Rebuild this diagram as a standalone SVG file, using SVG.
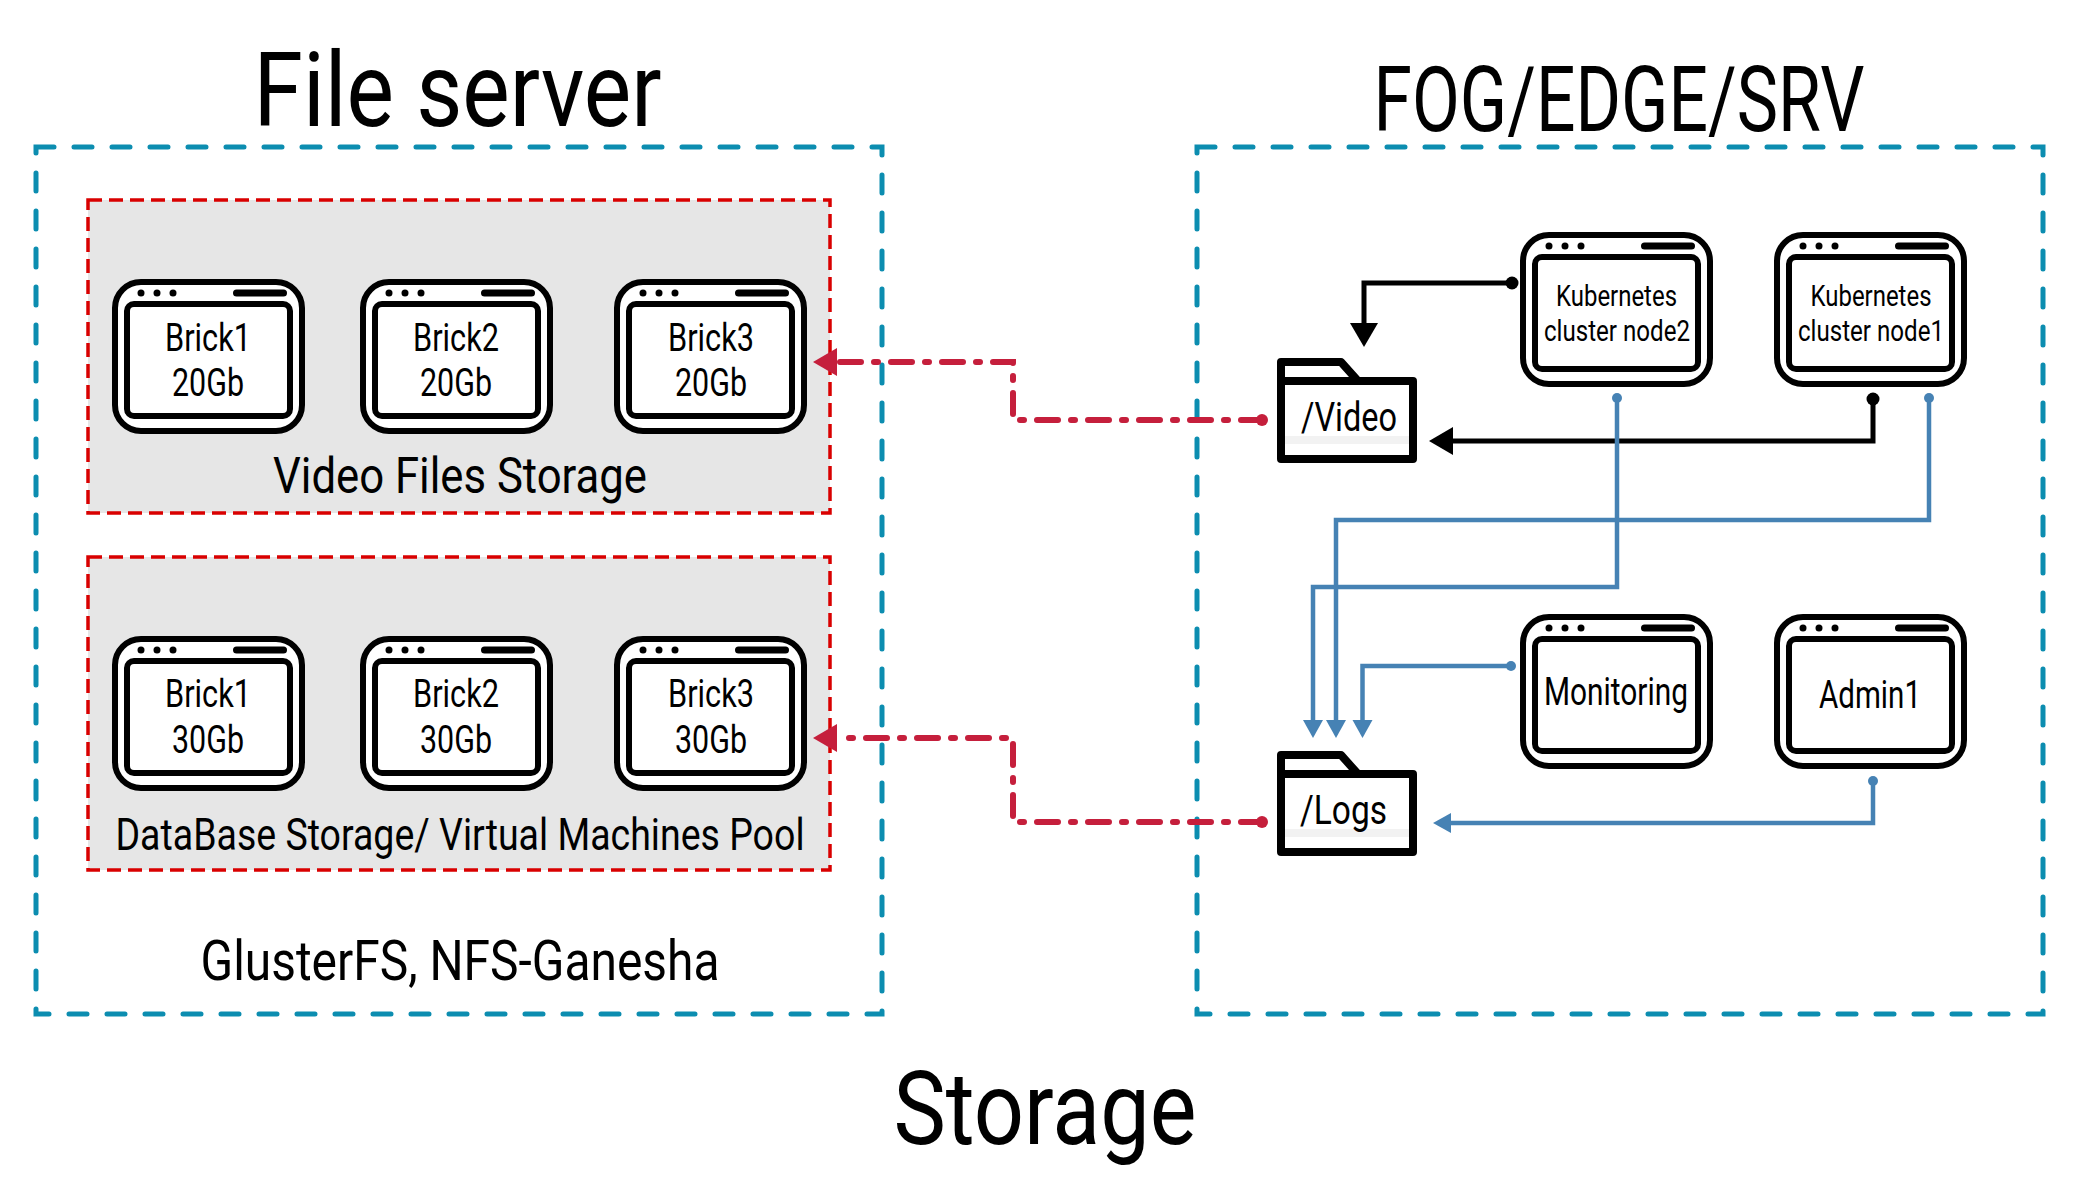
<svg xmlns="http://www.w3.org/2000/svg" width="2090" height="1193" viewBox="0 0 2090 1193">
<style>
text{font-family:Roboto,"Liberation Sans",sans-serif;fill:#000;text-anchor:middle}
.outer{fill:none;stroke:#0c8db0;stroke-width:5;stroke-dasharray:18 20;stroke-linecap:round}
.pool{fill:#e6e6e6;stroke:#d90000;stroke-width:3.500;stroke-dasharray:14 7}
.win{fill:#fff;stroke:#000;stroke-width:6}
.fold{fill:#fff;stroke:#000;stroke-width:8;stroke-linejoin:round}
.k{fill:none;stroke:#000;stroke-width:5}
.b{fill:none;stroke:#4682b4;stroke-width:4.500}
.r{fill:none;stroke:#c51f3c;stroke-width:6;stroke-linecap:round;stroke-dasharray:21 13 4 13}
</style>
<defs>
<g id="window">
<rect class="win" x="3" y="3" width="187" height="149" rx="26"/>
<rect class="win" x="15" y="25" width="163" height="112" rx="7"/>
<circle cx="29" cy="14" r="3.500"/><circle cx="45" cy="14" r="3.500"/><circle cx="61" cy="14" r="3.500"/>
<path d="M124.500 14H171.500" stroke="#000" stroke-width="7" stroke-linecap="round"/>
</g>
<g id="folder">
<path class="fold" d="M4 23V4H64L81 23M4 23H136V101H4Z"/>
<rect x="8" y="78" width="124" height="8" fill="#f2f2f2"/>
</g>
<marker id="ka" markerUnits="userSpaceOnUse" markerWidth="26" markerHeight="30" refX="1" refY="15" orient="auto"><path d="M0 1L24 15L0 29Z"/></marker>
<marker id="kd" markerUnits="userSpaceOnUse" markerWidth="14" markerHeight="14" refX="7" refY="7"><circle cx="7" cy="7" r="6.500"/></marker>
<marker id="ba" markerUnits="userSpaceOnUse" markerWidth="19" markerHeight="22" refX="1" refY="11" orient="auto"><path d="M0 1L18 11L0 21Z" fill="#4682b4"/></marker>
<marker id="bd" markerUnits="userSpaceOnUse" markerWidth="12" markerHeight="12" refX="6" refY="6"><circle cx="6" cy="6" r="5" fill="#4682b4"/></marker>
<marker id="ra" markerUnits="userSpaceOnUse" markerWidth="26" markerHeight="30" refX="1" refY="15" orient="auto"><path d="M0 1L24 15L0 29Z" fill="#c51f3c"/></marker>
<marker id="rd" markerUnits="userSpaceOnUse" markerWidth="14" markerHeight="14" refX="7" refY="7"><circle cx="7" cy="7" r="6" fill="#c51f3c"/></marker>
</defs>
<rect width="2090" height="1193" fill="#fff"/>
<text x="457.500" y="126" font-size="104" textLength="408" lengthAdjust="spacingAndGlyphs">File server</text>
<text x="1619" y="131" font-size="90" textLength="491" lengthAdjust="spacingAndGlyphs">FOG/EDGE/SRV</text>
<text x="1045" y="1144" font-size="102" textLength="303" lengthAdjust="spacingAndGlyphs">Storage</text>
<g id="file-server">
<rect class="outer" x="36" y="147" width="846" height="867"/>
<text x="460" y="980" font-size="55" textLength="519" lengthAdjust="spacingAndGlyphs">GlusterFS, NFS-Ganesha</text>
</g>
<g id="fog-edge-srv"><rect class="outer" x="1197" y="147" width="846" height="867"/></g>
<g id="video-pool">
<rect class="pool" x="88" y="200" width="742" height="313"/>
<text x="460" y="493" font-size="50" textLength="374" lengthAdjust="spacingAndGlyphs">Video Files Storage</text>
</g>
<g id="db-pool">
<rect class="pool" x="88" y="557" width="742" height="313"/>
<text x="460" y="850" font-size="45" textLength="689" lengthAdjust="spacingAndGlyphs">DataBase Storage/ Virtual Machines Pool</text>
</g>
<g id="brick1-20"><use href="#window" x="112" y="279"/><text x="208" y="351" font-size="38" textLength="86" lengthAdjust="spacingAndGlyphs">Brick1</text><text x="208" y="396" font-size="38" textLength="72" lengthAdjust="spacingAndGlyphs">20Gb</text></g>
<g id="brick2-20"><use href="#window" x="360" y="279"/><text x="456" y="351" font-size="38" textLength="86" lengthAdjust="spacingAndGlyphs">Brick2</text><text x="456" y="396" font-size="38" textLength="72" lengthAdjust="spacingAndGlyphs">20Gb</text></g>
<g id="brick3-20"><use href="#window" x="614" y="279"/><text x="711" y="351" font-size="38" textLength="86" lengthAdjust="spacingAndGlyphs">Brick3</text><text x="711" y="396" font-size="38" textLength="72" lengthAdjust="spacingAndGlyphs">20Gb</text></g>
<g id="brick1-30"><use href="#window" x="112" y="636"/><text x="208" y="707" font-size="38" textLength="86" lengthAdjust="spacingAndGlyphs">Brick1</text><text x="208" y="753" font-size="38" textLength="72" lengthAdjust="spacingAndGlyphs">30Gb</text></g>
<g id="brick2-30"><use href="#window" x="360" y="636"/><text x="456" y="707" font-size="38" textLength="86" lengthAdjust="spacingAndGlyphs">Brick2</text><text x="456" y="753" font-size="38" textLength="72" lengthAdjust="spacingAndGlyphs">30Gb</text></g>
<g id="brick3-30"><use href="#window" x="614" y="636"/><text x="711" y="707" font-size="38" textLength="86" lengthAdjust="spacingAndGlyphs">Brick3</text><text x="711" y="753" font-size="38" textLength="72" lengthAdjust="spacingAndGlyphs">30Gb</text></g>
<g id="k8s-node2"><use href="#window" x="1520" y="232"/><text x="1616.500" y="306" font-size="30" textLength="121" lengthAdjust="spacingAndGlyphs">Kubernetes</text><text x="1617" y="341" font-size="30" textLength="146" lengthAdjust="spacingAndGlyphs">cluster node2</text></g>
<g id="k8s-node1"><use href="#window" x="1774" y="232"/><text x="1871" y="306" font-size="30" textLength="121" lengthAdjust="spacingAndGlyphs">Kubernetes</text><text x="1871" y="341" font-size="30" textLength="146" lengthAdjust="spacingAndGlyphs">cluster node1</text></g>
<g id="monitoring"><use href="#window" x="1520" y="614"/><text x="1616" y="705" font-size="38" textLength="144" lengthAdjust="spacingAndGlyphs">Monitoring</text></g>
<g id="admin1"><use href="#window" x="1774" y="614"/><text x="1870" y="708" font-size="38" textLength="102" lengthAdjust="spacingAndGlyphs">Admin1</text></g>
<g id="video-folder"><use href="#folder" x="1277" y="358"/><text x="1349" y="431" font-size="40" textLength="96" lengthAdjust="spacingAndGlyphs">/Video</text></g>
<g id="logs-folder"><use href="#folder" x="1277" y="751"/><text x="1343.500" y="824" font-size="40" textLength="87" lengthAdjust="spacingAndGlyphs">/Logs</text></g>
<g id="connectors">
<path class="r" d="M1262 420H1013V362H836" marker-start="url(#rd)" marker-end="url(#ra)"/>
<path class="r" d="M1262 822H1013V738H836" marker-start="url(#rd)" marker-end="url(#ra)"/>
<path class="k" d="M1512 283H1364V324" marker-start="url(#kd)" marker-end="url(#ka)"/>
<path class="k" d="M1873 399V441H1452" marker-start="url(#kd)" marker-end="url(#ka)"/>
<path class="b" d="M1617 398V587H1313V721" marker-start="url(#bd)" marker-end="url(#ba)"/>
<path class="b" d="M1929 398V520H1336V721" marker-start="url(#bd)" marker-end="url(#ba)"/>
<path class="b" d="M1511 666H1362.500V721" marker-start="url(#bd)" marker-end="url(#ba)"/>
<path class="b" d="M1873 781V823H1450" marker-start="url(#bd)" marker-end="url(#ba)"/>
</g>
</svg>
